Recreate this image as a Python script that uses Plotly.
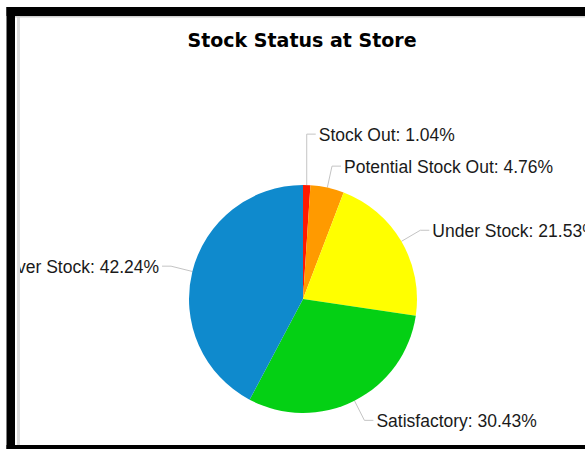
import math
import plotly.graph_objects as go

# ---- data ----
categories = ["Stock Out", "Potential Stock Out", "Under Stock", "Satisfactory", "Over Stock"]
values = [1.04, 4.76, 21.53, 30.43, 42.24]
colors = ["#ff1a00", "#ff9a00", "#ffff00", "#04d014", "#0f8acd"]
title_text = "Stock Status at Store"

# ---- geometry (pixels) ----
W, H = 585, 449
CX, CY, R = 303, 299, 114
DIST = 22
GAP = 32
CLIP_LEFT = 20
TEXT_DY = 2

total = sum(values)
cum = 0.0
info = []
for name, v in zip(categories, values):
    mid = (cum + v / 2) / total * 2 * math.pi
    cum += v
    ex = CX + R * math.sin(mid)
    ey = CY - R * math.cos(mid)
    side = 1 if math.sin(mid) >= 0 else -1
    ly = CY - (R + DIST) * math.cos(mid)
    info.append(dict(name=name, v=v, side=side, ex=ex, ey=ey, ly=ly))

for side in (1, -1):
    items = sorted([d for d in info if d["side"] == side], key=lambda d: d["ly"])
    for i in range(len(items) - 2, -1, -1):
        items[i]["ly"] = min(items[i]["ly"], items[i + 1]["ly"] - GAP)

for d in info:
    dy = d["ly"] - CY
    dx = math.sqrt(max((R + DIST) ** 2 - dy ** 2, 0))
    bx = CX + d["side"] * dx
    bx = max(bx, d["ex"]) if d["side"] > 0 else min(bx, d["ex"])
    d["bx"] = bx
    d["lx"] = bx + d["side"] * 9
    d["tx"] = d["lx"] + d["side"] * 3

fig = go.Figure()

# leader lines
lx, ly = [], []
for d in info:
    lx += [d["ex"], d["bx"], d["lx"], None]
    ly += [d["ey"], d["ly"], d["ly"], None]
fig.add_trace(go.Scatter(x=lx, y=ly, mode="lines", line=dict(color="#c4c4c4", width=1),
                         hoverinfo="skip", showlegend=False, cliponaxis=True))

label_font = dict(family="Liberation Sans, Arial, sans-serif", size=17.5, color="#1a1a1a")
for side, pos in ((1, "middle right"), (-1, "middle left")):
    sel = [d for d in info if d["side"] == side]
    fig.add_trace(go.Scatter(
        x=[d["tx"] for d in sel], y=[d["ly"] + TEXT_DY for d in sel], mode="text",
        text=[f"{d['name']}: {d['v']:.2f}%" for d in sel],
        textposition=pos, textfont=label_font, hoverinfo="skip",
        showlegend=False, cliponaxis=True))

fig.add_trace(go.Pie(
    labels=categories, values=values, sort=False, direction="clockwise", rotation=0,
    marker=dict(colors=colors, line=dict(width=0)), textinfo="none",
    showlegend=False,
    domain=dict(x=[(CX - R) / W, (CX + R) / W], y=[(H - CY - R) / H, (H - CY + R) / H]),
))

def px(x):
    return x / W

def py(y):
    return 1 - y / H

shapes = [
    # light inner lines
    dict(type="rect", xref="paper", yref="paper", x0=px(17), x1=px(20), y0=py(16), y1=py(445),
         fillcolor="#dcdcdc", line=dict(width=0), layer="above"),
    dict(type="rect", xref="paper", yref="paper", x0=px(15), x1=px(W), y0=py(16), y1=py(17.5),
         fillcolor="#d0d0d0", line=dict(width=0), layer="above"),
    # black frame
    dict(type="rect", xref="paper", yref="paper", x0=px(6.5), x1=px(15), y0=py(7), y1=py(H),
         fillcolor="#000000", line=dict(width=0), layer="above"),
    dict(type="rect", xref="paper", yref="paper", x0=px(6.5), x1=px(W), y0=py(7), y1=py(16),
         fillcolor="#000000", line=dict(width=0), layer="above"),
    dict(type="rect", xref="paper", yref="paper", x0=px(6.5), x1=px(W), y0=py(445), y1=py(H),
         fillcolor="#000000", line=dict(width=0), layer="above"),
]

fig.update_layout(
    width=W, height=H, margin=dict(l=0, r=0, t=0, b=0),
    paper_bgcolor="white", plot_bgcolor="white", showlegend=False,
    xaxis=dict(range=[CLIP_LEFT, W], domain=[CLIP_LEFT / W, 1], visible=False, fixedrange=True),
    yaxis=dict(range=[H, 0], domain=[0, 1], visible=False, fixedrange=True),
    title=dict(text=f"<b>{title_text}</b>", x=302 / W, y=1 - 40 / H, xanchor="center", yanchor="middle",
               font=dict(family="DejaVu Sans, sans-serif", size=19, color="#000000")),
    shapes=shapes,
)

fig.write_html(
    "out.html",
    config={"displayModeBar": False},
    post_script="document.body.style.margin='0';document.body.style.overflow='hidden';",
)
